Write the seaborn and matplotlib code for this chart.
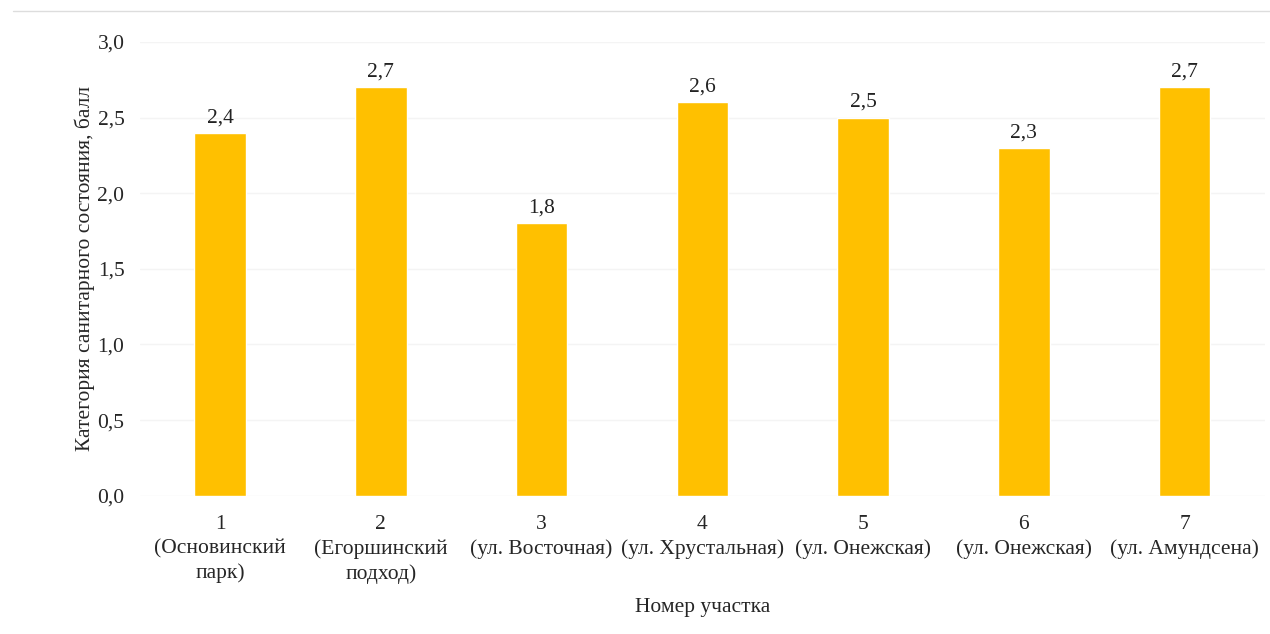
import matplotlib
matplotlib.use("Agg")
import matplotlib.pyplot as plt
import pandas as pd
import seaborn as sns

sites = ["1", "2", "3", "4", "5", "6", "7"]
site_names = [
    "(Основинский\nпарк)",
    "(Егоршинский\nподход)",
    "(ул. Восточная)",
    "(ул. Хрустальная)",
    "(ул. Онежская)",
    "(ул. Онежская)",
    "(ул. Амундсена)",
]
scores = [2.4, 2.7, 1.8, 2.6, 2.5, 2.3, 2.7]
y_ticks = [0.0, 0.5, 1.0, 1.5, 2.0, 2.5, 3.0]

sns.set_theme(style="white")
plt.rcParams["font.family"] = ["Liberation Serif", "DejaVu Serif"]

df = pd.DataFrame({"site": sites, "score": scores})

fig = plt.figure(figsize=(12.7, 6.34), dpi=100)
ax = fig.add_axes([0.110, 0.218, 0.886, 0.716])

sns.barplot(data=df, x="site", y="score", color="#FFC000", saturation=1,
            width=0.32, ax=ax, zorder=3)

fs = 15.5
ax.set_ylim(0, 3.0)
ax.set_yticks(y_ticks)
ax.set_yticklabels([f"{t:.1f}".replace(".", ",") for t in y_ticks], fontsize=fs)
ax.yaxis.grid(True, color="#f4f4f4", linewidth=1, zorder=0)
ax.xaxis.grid(False)
ax.set_xlim(-0.5, len(sites) - 0.5)
ax.set_xticks(range(len(sites)))
ax.set_xticklabels([f"{s}\n{n}" for s, n in zip(sites, site_names)],
                   fontsize=fs, linespacing=1.35)
ax.tick_params(axis="x", length=0, pad=14)
ax.tick_params(axis="y", length=0, pad=11)
for spine in ax.spines.values():
    spine.set_visible(False)

ax.bar_label(ax.containers[0], labels=[f"{v:.1f}".replace(".", ",") for v in scores],
             padding=4, fontsize=fs, color="#222222")

ax.set_xlabel("Номер участка", fontsize=fs, labelpad=10)
ax.set_ylabel("Категория санитарного состояния, балл", fontsize=fs, labelpad=2)

fig.add_artist(plt.Line2D([0.01, 1.0], [0.982, 0.982], color="#dddddd", linewidth=1))

fig.savefig("out.png", dpi=100)
